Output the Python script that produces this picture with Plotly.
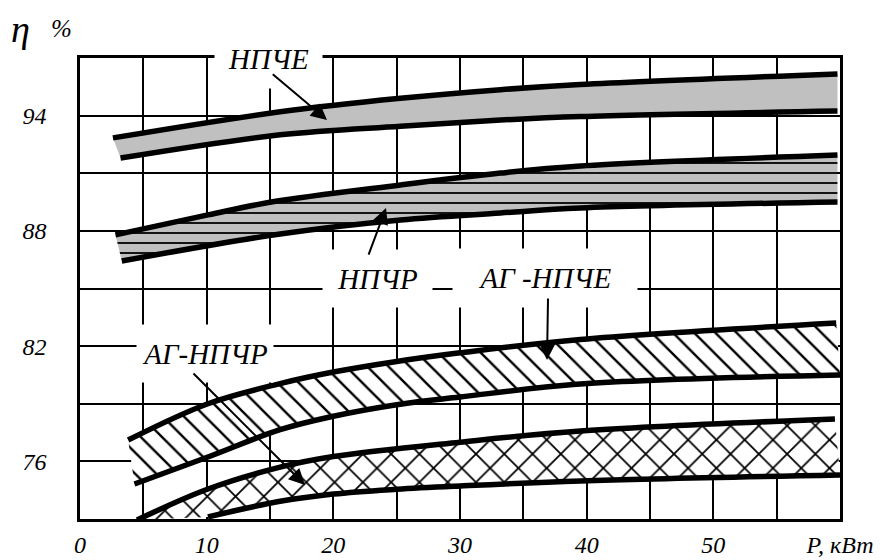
import plotly.graph_objects as go

FONT = "Liberation Serif, Times New Roman, Times, serif"

# ---- data (P, kW  /  efficiency, %) ----
npche_up_x = [2.6, 15.8, 25.3, 33.2, 39.5, 59.8]
npche_up_y = [92.84, 94.2, 94.9, 95.35, 95.62, 96.17]
npche_lo_x = [3.2, 15.8, 25.3, 33.2, 39.5, 59.8]
npche_lo_y = [91.79, 93.00, 93.45, 93.77, 93.95, 94.24]

npchr_up_x = [2.8, 10.1, 15.1, 25.3, 33.2, 39.5, 59.8]
npchr_up_y = [87.79, 88.83, 89.50, 90.39, 91.01, 91.38, 91.95]
npchr_lo_x = [3.3, 15.8, 25.3, 33.2, 39.5, 59.8]
npchr_lo_y = [86.43, 87.84, 88.57, 88.93, 89.19, 89.50]

ag_npche_up_x = [3.8, 10.1, 15.8, 20.0, 25.0, 30.0, 39.5, 59.7]
ag_npche_up_y = [77.11, 79.0, 80.05, 80.65, 81.2, 81.65, 82.35, 83.20]
ag_npche_lo_x = [4.3, 10.1, 15.8, 20.0, 25.0, 30.0, 39.5, 60.0]
ag_npche_lo_y = [74.82, 76.23, 77.65, 78.35, 78.95, 79.35, 80.03, 80.50]

ag_npchr_up_x = [4.5, 10.1, 15.8, 20.0, 30.0, 39.5, 59.6]
ag_npchr_up_y = [72.95, 74.56, 75.7, 76.25, 77.0, 77.58, 78.21]
ag_npchr_lo_x = [10.1, 15.8, 20.0, 25.0, 30.0, 39.5, 60.0]
ag_npchr_lo_y = [73.11, 73.92, 74.3, 74.55, 74.72, 74.98, 75.29]

x_ticks = [0, 5, 10, 15, 20, 25, 30, 35, 40, 45, 50, 55, 60]
x_labels = ["0", "", "10", "", "20", "", "30", "", "40", "", "50", "", "P, кВт"]
y_ticks = [73, 76, 79, 82, 85, 88, 91, 94, 97]
y_labels = ["", "76", "", "82", "", "88", "", "94", ""]

fig = go.Figure()

def add_band(lo_x, lo_y, up_x, up_y, fillcolor, pattern=None):
    fig.add_trace(go.Scatter(x=lo_x, y=lo_y, mode="lines",
                             line=dict(width=0, shape="spline"),
                             hoverinfo="skip", showlegend=False))
    kw = dict(x=up_x, y=up_y, mode="lines", fill="tonexty",
              line=dict(width=0, shape="spline"), fillcolor=fillcolor,
              hoverinfo="skip", showlegend=False)
    if pattern:
        kw["fillpattern"] = pattern
    fig.add_trace(go.Scatter(**kw))

add_band(npche_lo_x, npche_lo_y, npche_up_x, npche_up_y, "#c0c0c0")
add_band(npchr_lo_x, npchr_lo_y, npchr_up_x, npchr_up_y, "#c0c0c0",
         dict(shape="-", bgcolor="#c0c0c0", fgcolor="black", fgopacity=1,
              size=10, solidity=0.18))
add_band(ag_npche_lo_x, ag_npche_lo_y, ag_npche_up_x, ag_npche_up_y, "white",
         dict(shape="\\", bgcolor="white", fgcolor="black", fgopacity=1,
              size=15, solidity=0.16))
add_band(ag_npchr_lo_x, ag_npchr_lo_y, ag_npchr_up_x, ag_npchr_up_y, "white",
         dict(shape="x", bgcolor="white", fgcolor="black", fgopacity=1,
              size=20, solidity=0.17))

for xs, ys in [(npche_up_x, npche_up_y), (npche_lo_x, npche_lo_y),
               (npchr_up_x, npchr_up_y), (npchr_lo_x, npchr_lo_y),
               (ag_npche_up_x, ag_npche_up_y), (ag_npche_lo_x, ag_npche_lo_y),
               (ag_npchr_up_x, ag_npchr_up_y), (ag_npchr_lo_x, ag_npchr_lo_y)]:
    fig.add_trace(go.Scatter(x=xs, y=ys, mode="lines",
                             line=dict(color="black", width=5.5, shape="spline"),
                             hoverinfo="skip", showlegend=False))

lab_font = dict(family=FONT, size=29, color="black", style="italic")

# labels with white boxes covering the grid
labels = [
    ("НПЧЕ", 14.88, 96.95, 107, 58),
    ("НПЧР", 23.49, 85.52, 109, 57),
    ("АГ -НПЧЕ", 36.71, 85.55, 184, 58),
    ("АГ-НПЧР", 9.87, 81.64, 136, 57),
]
for text, x, y, w, h in labels:
    fig.add_annotation(x=x, y=y, xref="x", yref="y", text=text, showarrow=False,
                       font=lab_font, bgcolor="white", width=w, height=h,
                       borderpad=0, xanchor="center", yanchor="middle", valign="middle")

# arrows: (head x, head y, tail x, tail y)
arrows = [
    (19.5, 93.77, 15.1, 96.22),
    (24.16, 89.19, 22.74, 86.69),
    (36.87, 81.28, 36.95, 84.56),
    (17.76, 74.77, 8.84, 80.65),
]
for hx, hy, tx, ty in arrows:
    fig.add_annotation(x=hx, y=hy, ax=tx, ay=ty, xref="x", yref="y",
                       axref="x", ayref="y", text="", showarrow=True,
                       arrowhead=2, arrowsize=1.6, arrowwidth=2, arrowcolor="black")

fig.add_annotation(x=-0.078, y=1.063, xref="paper", yref="paper", text="η", showarrow=False,
                   xanchor="center", yanchor="middle",
                   font=dict(family=FONT, size=38, color="black", style="italic"))
fig.add_annotation(x=-0.025, y=1.065, xref="paper", yref="paper", text="%", showarrow=False,
                   xanchor="center", yanchor="middle",
                   font=dict(family=FONT, size=25, color="black", style="italic"))

axis_common = dict(showgrid=True, gridcolor="black", gridwidth=2,
                   showline=True, linecolor="black", linewidth=2.5, mirror=True,
                   zeroline=False, ticks="", tickmode="array", automargin=False,
                   tickfont=dict(family=FONT, size=24, color="black", style="italic"))

fig.update_xaxes(range=[0, 60], tickvals=x_ticks, ticktext=x_labels,
                 ticklabelstandoff=2, **axis_common)
fig.update_yaxes(range=[73, 97], tickvals=y_ticks, ticktext=y_labels,
                 ticklabelstandoff=26, **axis_common)

# the page adds an 8px body margin, so margins are shifted to keep the plot in place
fig.update_layout(width=882, height=560, margin=dict(l=72, r=50, t=50, b=49),
                  plot_bgcolor="white", paper_bgcolor="white", showlegend=False)

fig.write_html("out.html")
